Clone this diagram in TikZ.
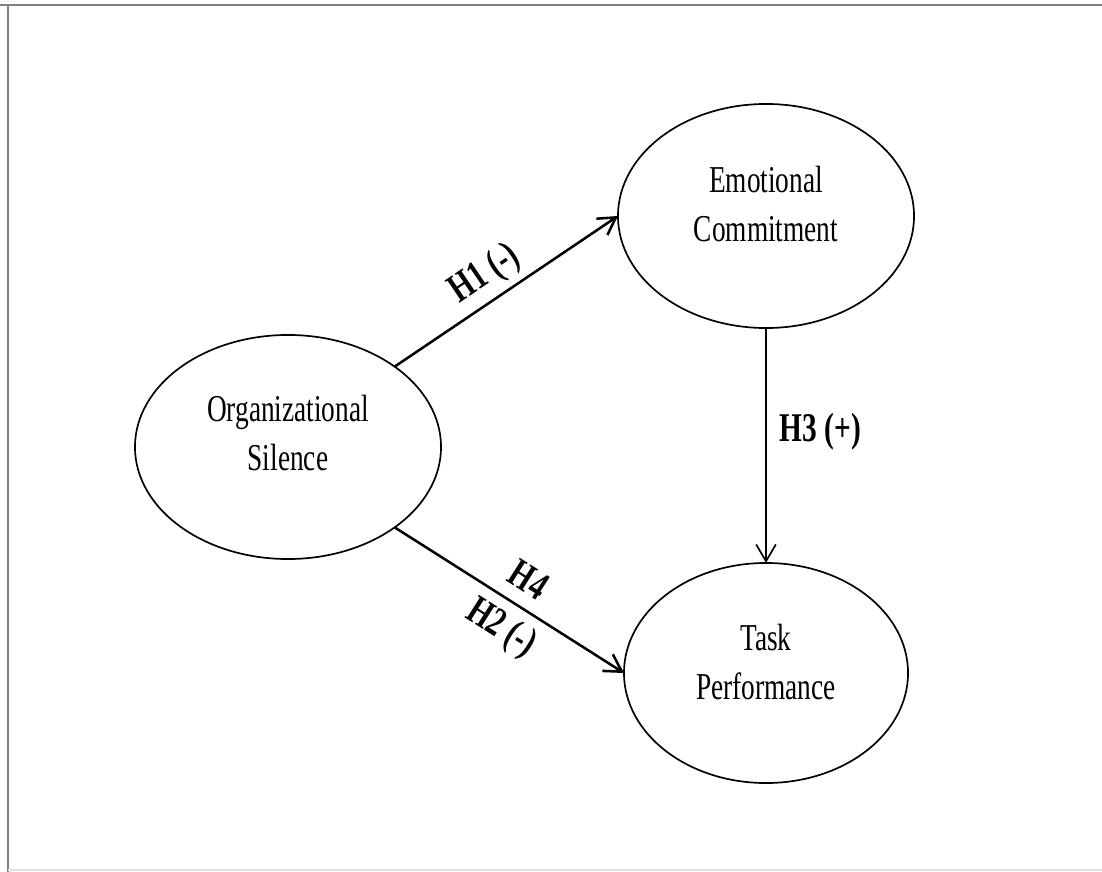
\documentclass[tikz,border=0pt]{standalone}
\usepackage{fontspec}
\setmainfont{Liberation Serif}[FakeStretch=0.72]
\usetikzlibrary{arrows.meta, shapes.geometric}
\tikzset{
	latent/.style={draw, ellipse, line width=1.2pt, inner sep=0pt, outer sep=0pt},
	txt/.style={align=center, font=\fontsize{27}{35}\selectfont},
	hyp/.style={font=\bfseries\fontsize{29}{35}\selectfont},
	link/.style={-{Straight Barb[length=12pt,width=14pt]}, line width=1.2pt},
	thick link/.style={link, line width=1.8pt}
}
\begin{document}
\begin{tikzpicture}[x=0.025cm, y=-0.025cm]
		% Set the page limits (in pixels of the original)
		\def\xmax{1102}
		\def\ymax{872}
		
		\useasboundingbox (0,0) rectangle (\xmax,\ymax);
		
		% frame of the figure
		\draw[gray, line width=1.5pt] (0,5) -- (\xmax,5);
		\draw[gray, line width=1.5pt] (8,5) -- (8,\ymax);
		\draw[gray!25, line width=1.5pt] (8,870) -- (\xmax,870);
		
		% the three constructs
		\node[latent, minimum width=7.65cm, minimum height=5.6cm] (org) at (288,447) {};
		\node[latent, minimum width=7.4cm, minimum height=5.6cm] (emo) at (766,216) {};
		\node[latent, minimum width=7.1cm, minimum height=5.5cm] (task) at (766,673) {};
		
		\node[txt] (orgtxt) at (288,433) {Organizational\\Silence};
		\node[txt] (emotxt) at (766,204) {Emotional\\Commitment};
		\node[txt] (tasktxt) at (766,662) {Task\\Performance};
		
		% hypotheses
		\draw[thick link] (org.37) -- node[hyp, sloped, above=1pt, pos=0.47] {H1 (-)} (emo.west);
		\draw[thick link] (org.-37) -- node[hyp, sloped, above=6pt, pos=0.52] {H4}
			node[hyp, sloped, below=3pt, pos=0.53] {H2 (-)} (task.west);
		\draw[link] (emo.south) -- node[hyp, right=6pt, pos=0.44] {H3 (+)} (task.north);
	\end{tikzpicture}
\end{document}
